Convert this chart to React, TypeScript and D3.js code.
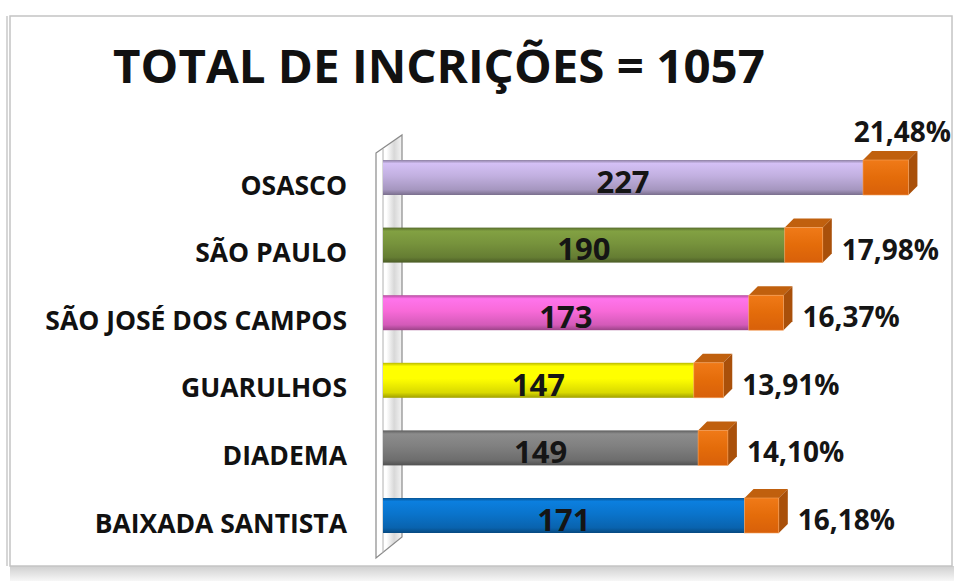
import React, { useLayoutEffect, useRef, useState } from 'react';
import * as d3 from 'd3';

// chart values
const categories = ['OSASCO', 'SÃO PAULO', 'SÃO JOSÉ DOS CAMPOS', 'GUARULHOS', 'DIADEMA', 'BAIXADA SANTISTA'];
const counts = [227, 190, 173, 147, 149, 171];
const percents = [21.48, 17.98, 16.37, 13.91, 14.1, 16.18];
const percentLabels = ['21,48%', '17,98%', '16,37%', '13,91%', '14,10%', '16,18%'];
const barColors = ['#c2b0e0', '#77933c', '#f86ad8', '#ffff00', '#808080', '#0a74cc'];
const title = 'TOTAL DE INCRIÇÕES = 1057';

const W = 958;
const H = 581;
const FONT = '"Open Sans", "DejaVu Sans", sans-serif';
const ORANGE = '#e46c0a';

export default function App() {
  const titleRef = useRef<SVGTextElement>(null);
  const [titleScale, setTitleScale] = useState(1);

  // squeeze the title horizontally to the reference width (narrow font look)
  useLayoutEffect(() => {
    if (titleRef.current) {
      const w = titleRef.current.getComputedTextLength();
      if (w > 0) setTitleScale(652 / w);
    }
  }, []);

  // stacked: count + percentage share the same linear scale
  const x = d3.scaleLinear().domain([0, 227]).range([383, 863]);
  const y = d3.scalePoint<string>().domain(categories).range([177.5, 515.5]);
  const barH = 35;
  const depth = 9;

  const wall = [[376, 153], [402, 135], [402, 537], [376, 558]];
  const wallPath = d3.line()(wall as [number, number][]) + 'Z';

  return (
    <svg width={W} height={H} style={{ position: 'absolute', left: 0, top: 0, background: '#fff' }}>
      <defs>
        {barColors.map((c, i) => {
          const col = d3.color(c)!;
          return (
            <linearGradient key={i} id={'bar' + i} x1="0" y1="0" x2="0" y2="1">
              <stop offset="0%" stopColor={col.darker(0.9).toString()} />
              <stop offset="10%" stopColor={col.brighter(0.25).toString()} />
              <stop offset="45%" stopColor={col.toString()} />
              <stop offset="85%" stopColor={col.darker(0.45).toString()} />
              <stop offset="100%" stopColor={col.darker(1.3).toString()} />
            </linearGradient>
          );
        })}
        <linearGradient id="orangeFront" x1="0" y1="0" x2="0" y2="1">
          <stop offset="0%" stopColor="#f07a18" />
          <stop offset="50%" stopColor={ORANGE} />
          <stop offset="100%" stopColor="#d8600a" />
        </linearGradient>
        <linearGradient id="wallGrad" x1="0" y1="0" x2="1" y2="0">
          <stop offset="0%" stopColor="#ffffff" />
          <stop offset="40%" stopColor="#ffffff" />
          <stop offset="70%" stopColor="#d8d8d8" />
          <stop offset="100%" stopColor="#f4f4f4" />
        </linearGradient>
        <linearGradient id="shadow" x1="0" y1="0" x2="0" y2="1">
          <stop offset="0%" stopColor="#cfcfcf" />
          <stop offset="100%" stopColor="#f7f7f7" />
        </linearGradient>
      </defs>

      {/* frame */}
      <rect x={10} y={566} width={944} height={15} fill="url(#shadow)" />
      <rect x={10} y={16} width={942} height={550} fill="#fff" stroke="#c4c4c4" strokeWidth={1.5} />
      <line x1={7} y1={16} x2={7} y2={566} stroke="#d6d6d6" strokeWidth={2} />

      <g transform={`translate(439,83) scale(${titleScale},1)`}>
        <text ref={titleRef} x={0} y={0} textAnchor="middle" fontFamily={FONT} fontWeight="bold" fontSize={46}
          fill="#111">{title}</text>
      </g>

      {/* back wall */}
      <path d={wallPath} fill="url(#wallGrad)" stroke="#8a8a8a" strokeWidth={1.2} />
      <line x1={383} y1={149} x2={383} y2={553} stroke="#b0b0b0" strokeWidth={1} />

      {categories.map((cat, i) => {
        const cy = y(cat)!;
        const top = cy - barH / 2;
        const x0 = x(0);
        const x1 = x(counts[i]);
        const x2 = x(counts[i] + percents[i]);
        const fits = x2 + depth + 10 + 100 < 950;
        return (
          <g key={cat}>
            <text x={347} y={cy + 10} textAnchor="end" dominantBaseline="middle" fontFamily={FONT}
              fontWeight="bold" fontSize={26.5} fill="#111">{cat}</text>
            <rect x={x0} y={top} width={x1 - x0} height={barH} fill={`url(#bar${i})`} />
            {/* orange percentage cube */}
            <path d={`M${x1},${top} L${x1 + depth},${top - depth} L${x2 + depth},${top - depth} L${x2},${top} Z`}
              fill="#c0600e" />
            <path d={`M${x2},${top} L${x2 + depth},${top - depth} L${x2 + depth},${top + barH - depth} L${x2},${top + barH} Z`}
              fill="#a9500a" />
            <rect x={x1} y={top} width={x2 - x1} height={barH} fill="url(#orangeFront)" stroke="#f5a05a" strokeWidth={0.6} />
            <text x={(x0 + x1) / 2} y={cy + 7} textAnchor="middle" dominantBaseline="middle" fontFamily={FONT}
              fontWeight="bold" fontSize={31} fill="#151515">{counts[i]}</text>
            {fits ? (
              <text x={x2 + depth + 10} y={cy + 7} dominantBaseline="middle" fontFamily={FONT}
                fontWeight="bold" fontSize={28} fill="#151515">{percentLabels[i]}</text>
            ) : (
              <text x={951} y={top - 18} textAnchor="end" fontFamily={FONT}
                fontWeight="bold" fontSize={28} fill="#151515">{percentLabels[i]}</text>
            )}
          </g>
        );
      })}
    </svg>
  );
}
